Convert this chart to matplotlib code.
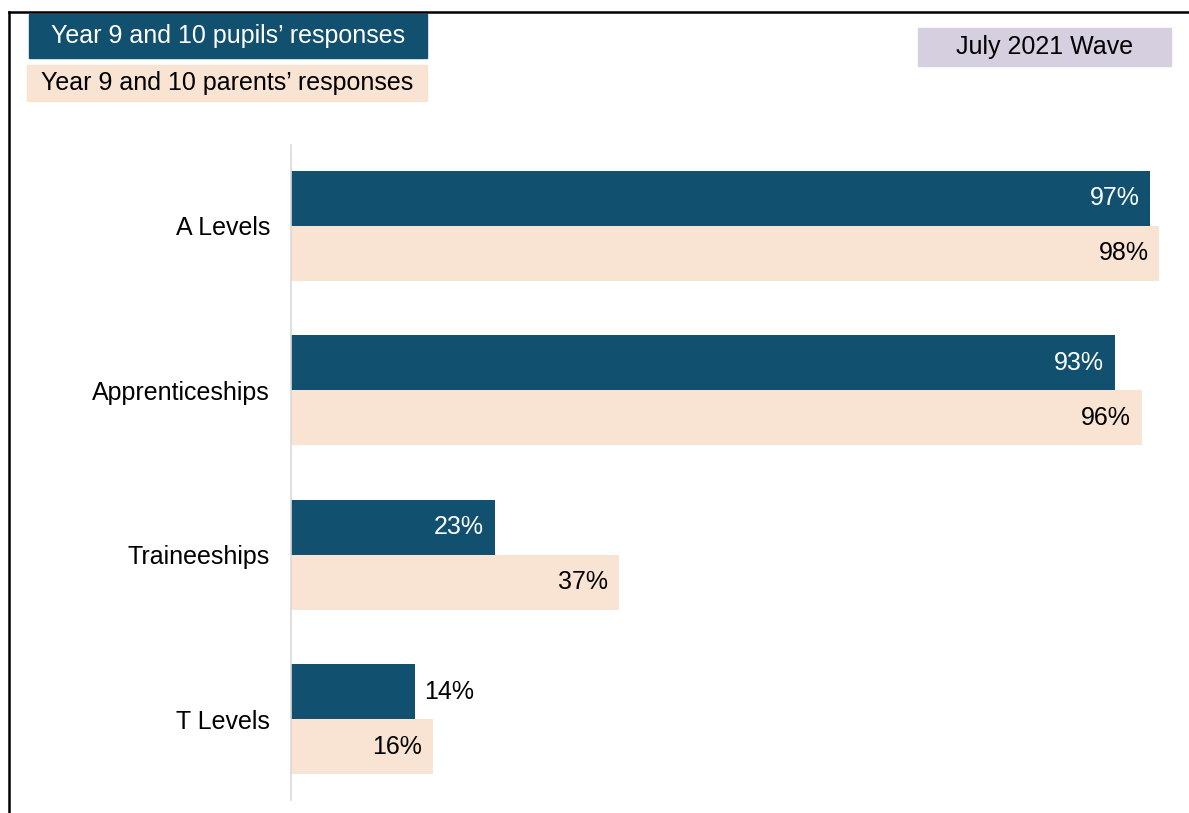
import matplotlib.pyplot as plt
from matplotlib.lines import Line2D
from matplotlib.patches import Rectangle

plt.rcParams['font.family'] = ['Liberation Sans', 'DejaVu Sans']

categories = ['A Levels', 'Apprenticeships', 'Traineeships', 'T Levels']
pupils = [97, 93, 23, 14]
parents = [98, 96, 37, 16]

navy = '#11506f'
peach = '#f9e3d3'
lavender = '#d5cfe0'

W, H = 1189, 813
fig = plt.figure(figsize=(W / 100, H / 100), dpi=100)

# main bar area
ax = fig.add_axes([291 / W, 1 - 800 / H, (1177 - 291) / W, (800 - 145) / H])
bh = 0.334
ypos = list(range(len(categories)))
ax.barh([y - bh / 2 for y in ypos], pupils, height=bh, color=navy)
ax.barh([y + bh / 2 for y in ypos], parents, height=bh, color=peach)

for y, p, q in zip(ypos, pupils, parents):
    if p < 15:
        ax.text(p + 1.0, y - bh / 2, f'{p}%', ha='left', va='center', fontsize=18, color='black')
    else:
        ax.text(p - 1.2, y - bh / 2, f'{p}%', ha='right', va='center', fontsize=18, color='white')
    ax.text(q - 1.2, y + bh / 2, f'{q}%', ha='right', va='center', fontsize=18, color='black')

ax.set_xlim(0, 100)
ax.set_ylim(3.49, -0.49)
ax.set_yticks(ypos)
ax.set_yticklabels(categories, fontsize=18)
ax.tick_params(axis='y', length=0, pad=15)
ax.set_xticks([])
for side in ['top', 'right', 'bottom']:
    ax.spines[side].set_visible(False)
ax.spines['left'].set_color('#d9d9d9')
ax.spines['left'].set_linewidth(1.2)

# legend boxes and wave label
def box(x0, y0, x1, y1, color, text, tcolor):
    fig.patches.append(Rectangle((x0 / W, 1 - y1 / H), (x1 - x0) / W, (y1 - y0) / H,
                                 transform=fig.transFigure, color=color, zorder=1))
    fig.text((x0 + x1) / 2 / W, 1 - (y0 + y1) / 2 / H, text, ha='center', va='center',
             fontsize=18, color=tcolor)

box(29, 14, 427, 58, navy, 'Year 9 and 10 pupils’ responses', 'white')
box(27, 65, 427, 101, peach, 'Year 9 and 10 parents’ responses', 'black')
box(918, 28, 1171, 66, lavender, 'July 2021 Wave', 'black')

# outer frame (top and left edges)
fig.lines.append(Line2D([9 / W, 1], [1 - 12 / H, 1 - 12 / H], transform=fig.transFigure,
                        color='black', linewidth=1.8))
fig.lines.append(Line2D([9 / W, 9 / W], [0, 1 - 12 / H], transform=fig.transFigure,
                        color='black', linewidth=1.8))

fig.savefig('out.png', dpi=100, facecolor='white')
